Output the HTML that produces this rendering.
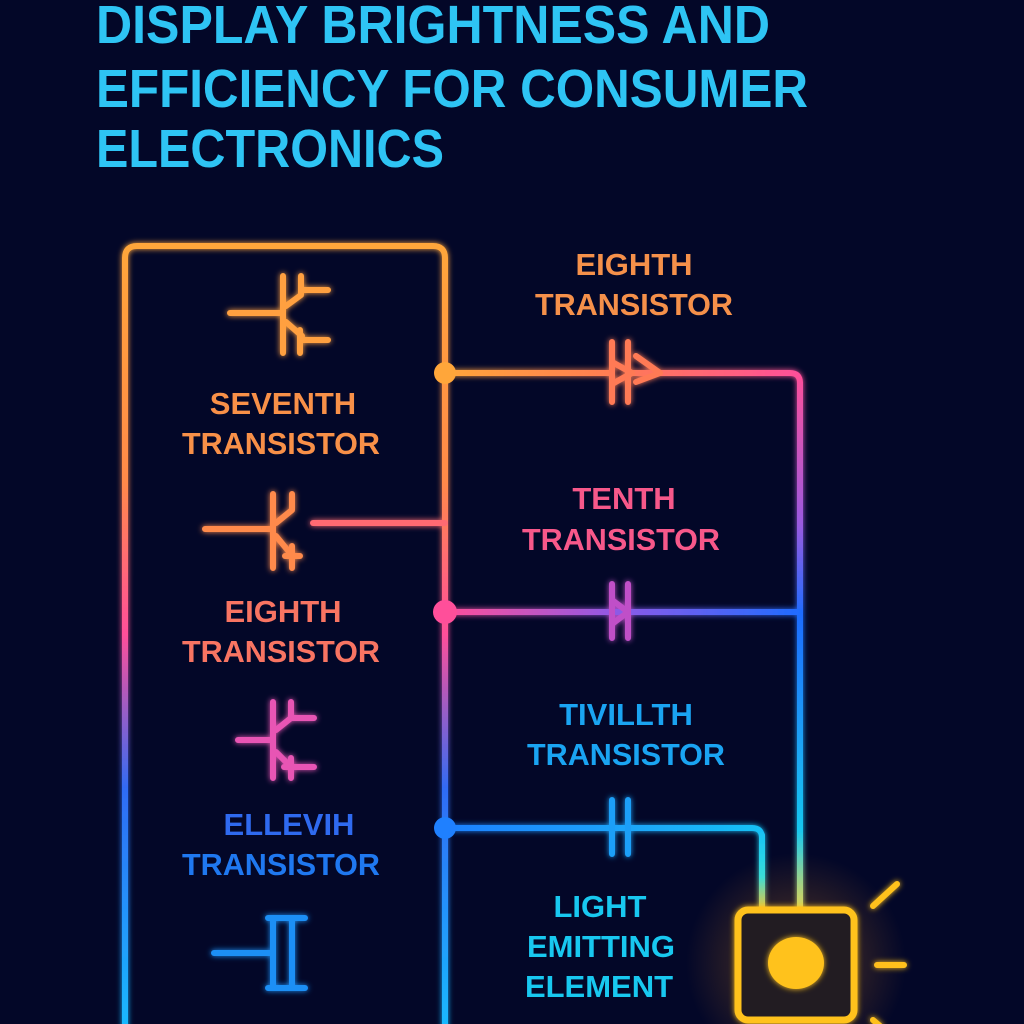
<!DOCTYPE html>
<html><head><meta charset="utf-8"><style>
html,body{margin:0;padding:0;background:#030728;}
svg{display:block}
text{font-family:"Liberation Sans",sans-serif;font-weight:bold;}
</style></head><body>
<svg width="1024" height="1024" viewBox="0 0 1024 1024" xmlns="http://www.w3.org/2000/svg">
<defs>
<linearGradient id="gbox" x1="0" y1="245" x2="0" y2="1024" gradientUnits="userSpaceOnUse">
<stop offset="0" stop-color="#ffa63a"/><stop offset="0.3" stop-color="#ff8a48"/>
<stop offset="0.5" stop-color="#ff4f9a"/><stop offset="0.7" stop-color="#2f6cf5"/>
<stop offset="1" stop-color="#19b8ff"/></linearGradient>
<linearGradient id="gr1" x1="445" y1="0" x2="800" y2="0" gradientUnits="userSpaceOnUse">
<stop offset="0" stop-color="#ffa63a"/><stop offset="0.5" stop-color="#ff7a55"/><stop offset="1" stop-color="#ff4f9a"/></linearGradient>
<linearGradient id="gr2" x1="445" y1="0" x2="800" y2="0" gradientUnits="userSpaceOnUse">
<stop offset="0" stop-color="#ff4f9a"/><stop offset="0.5" stop-color="#8a5ae8"/><stop offset="1" stop-color="#1f6cff"/></linearGradient>
<linearGradient id="gr3" x1="445" y1="0" x2="760" y2="0" gradientUnits="userSpaceOnUse">
<stop offset="0" stop-color="#1f80ff"/><stop offset="1" stop-color="#18c0f5"/></linearGradient>
<linearGradient id="gv1" x1="0" y1="373" x2="0" y2="910" gradientUnits="userSpaceOnUse">
<stop offset="0" stop-color="#ff4f9a"/><stop offset="0.28" stop-color="#9a5ae0"/><stop offset="0.45" stop-color="#1f6cff"/>
<stop offset="0.85" stop-color="#18c8f0"/><stop offset="1" stop-color="#d8e060"/></linearGradient>
<linearGradient id="gv3" x1="0" y1="828" x2="0" y2="910" gradientUnits="userSpaceOnUse">
<stop offset="0" stop-color="#18c0f5"/><stop offset="0.6" stop-color="#30e0e0"/><stop offset="1" stop-color="#e8d040"/></linearGradient>
<linearGradient id="gbus" x1="0" y1="245" x2="0" y2="1024" gradientUnits="userSpaceOnUse">
<stop offset="0" stop-color="#ffa63a"/><stop offset="0.3" stop-color="#ff8a48"/>
<stop offset="0.5" stop-color="#ff4f9a"/><stop offset="0.7" stop-color="#2f6cf5"/>
<stop offset="1" stop-color="#19b8ff"/></linearGradient>
<radialGradient id="glow" cx="796" cy="963" r="110" gradientUnits="userSpaceOnUse">
<stop offset="0" stop-color="#ff9a20" stop-opacity="0.35"/><stop offset="1" stop-color="#ff9a20" stop-opacity="0"/></radialGradient>
<filter id="gl" x="-20%" y="-20%" width="140%" height="140%"><feGaussianBlur stdDeviation="3" result="b"/><feMerge><feMergeNode in="b"/><feMergeNode in="SourceGraphic"/></feMerge></filter>
</defs>
<rect width="1024" height="1024" fill="#030728"/>
<g fill="#2ec4f4">
<text x="96" y="43" font-size="54" textLength="674" lengthAdjust="spacingAndGlyphs">DISPLAY BRIGHTNESS AND</text>
<text x="96" y="107" font-size="54" textLength="712" lengthAdjust="spacingAndGlyphs">EFFICIENCY FOR CONSUMER</text>
<text x="96" y="167" font-size="54" textLength="348" lengthAdjust="spacingAndGlyphs">ELECTRONICS</text>
</g>
<g fill="none" stroke-linecap="round" stroke-linejoin="round" filter="url(#gl)">
<path d="M125 1030 V258 Q125 246 137 246 H433 Q445 246 445 258 V1030" stroke="url(#gbox)" stroke-width="6"/>
<path d="M445 373 H610 M628 373 H790 Q800 373 800 383 V910" stroke="url(#gr1)" stroke-width="6"/>
<path d="M800 383 V910" stroke="url(#gv1)" stroke-width="6"/>
<path d="M445 612 H800" stroke="url(#gr2)" stroke-width="6"/>
<path d="M445 828 H752 Q762 828 762 838 V910" stroke="url(#gr3)" stroke-width="6"/>
<path d="M762 835 V910" stroke="url(#gv3)" stroke-width="6"/>
<path d="M313 523 H445" stroke="#ff6a72" stroke-width="6"/>
<!-- caps row1 -->
<g stroke="#ff7a55" stroke-width="6"><path d="M612 342 V402 M628 342 V402 M632 373 L612 362 M612 384 L632 373 M636 356 L660 373 L636 382"/></g>
<g stroke="#c050c8" stroke-width="6"><path d="M612 584 V638 M628 584 V638 M628 612 L612 600 M612 624 L628 612"/></g>
<g stroke="#1a9ff8" stroke-width="6"><path d="M612 800 V854 M628 800 V854"/></g>
<!-- T1 -->
<g stroke="#ffa040" stroke-width="6"><path d="M230 313 H282 M283 276 V353 M301 276 V295 L286 306 M301 290 H328 M286 322 L302 336 M300 330 V353 M300 340 H328"/></g>
<!-- T2 -->
<g stroke="#ff8a4c" stroke-width="6"><path d="M205 529 H270 M273 494 V568 M292 494 V510 L276 523 M276 536 L290 553 M292 546 V568 M285 556 H300"/></g>
<!-- T3 -->
<g stroke="#e855b4" stroke-width="6"><path d="M238 740 H272 M273 702 V778 M291 702 V718 L276 730 M291 718 H314 M276 752 L291 767 M291 758 V778 M284 767 H314"/></g>
<!-- cap bottom -->
<g stroke="#1a8ff5" stroke-width="6"><path d="M214 953 H272 M273 918 V988 M292 918 V988 M268 918 H305 M268 988 H305"/></g>
<!-- rays -->
<g stroke="#ffc21e" stroke-width="6"><path d="M873 906 L897 884 M877 965 H904 M873 1020 L880 1026"/></g>
</g>
<circle cx="445" cy="373" r="11" fill="#ffa63a"/>
<circle cx="445" cy="612" r="12" fill="#ff4f9a"/>
<circle cx="445" cy="828" r="11" fill="#1f80ff"/>
<circle cx="796" cy="963" r="110" fill="url(#glow)"/>
<rect x="738" y="910" width="116" height="110" rx="10" fill="#241a20" stroke="#ffc21e" stroke-width="7" filter="url(#gl)"/>
<ellipse cx="796" cy="963" rx="28" ry="26" fill="#ffc21e" filter="url(#gl)"/>
<g font-size="31" text-anchor="middle">
<text x="634" y="275" fill="#f5904a">EIGHTH</text>
<text x="634" y="315" fill="#f5904a" textLength="198" lengthAdjust="spacingAndGlyphs">TRANSISTOR</text>
<text x="624" y="509" fill="#f7588a">TENTH</text>
<text x="621" y="550" fill="#f7588a" textLength="198" lengthAdjust="spacingAndGlyphs">TRANSISTOR</text>
<text x="626" y="725" fill="#1aa4f2">TIVILLTH</text>
<text x="626" y="765" fill="#1aa4f2" textLength="198" lengthAdjust="spacingAndGlyphs">TRANSISTOR</text>
<text x="600" y="917" fill="#18c8f0">LIGHT</text>
<text x="601" y="957" fill="#18c8f0">EMITTING</text>
<text x="599" y="997" fill="#18c8f0">ELEMENT</text>
<text x="283" y="414" fill="#f89048">SEVENTH</text>
<text x="281" y="454" fill="#f89048" textLength="198" lengthAdjust="spacingAndGlyphs">TRANSISTOR</text>
<text x="283" y="622" fill="#f87462">EIGHTH</text>
<text x="281" y="662" fill="#f87462" textLength="198" lengthAdjust="spacingAndGlyphs">TRANSISTOR</text>
<text x="289" y="835" fill="#2f6af0">ELLEVIH</text>
<text x="281" y="875" fill="#1f78f0" textLength="198" lengthAdjust="spacingAndGlyphs">TRANSISTOR</text>
</g>
</svg>
</body></html>
